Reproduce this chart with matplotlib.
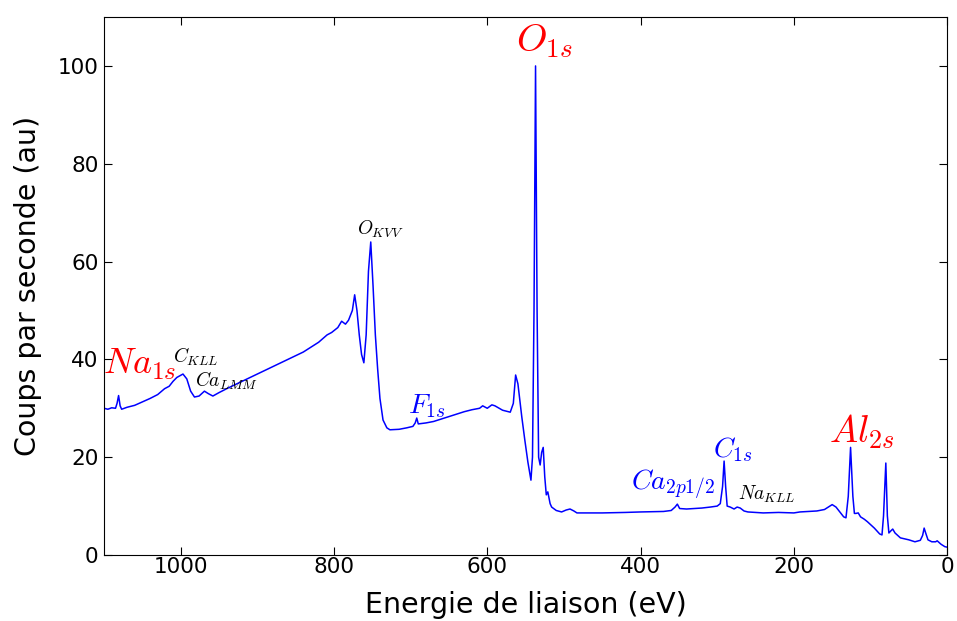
import matplotlib
matplotlib.use("Agg")
import matplotlib.pyplot as plt

plt.rcParams['mathtext.fontset'] = 'cm'

# spectre XPS (energie de liaison en eV, coups/s)
energie = [1100, 1095, 1090, 1085, 1083, 1081, 1079, 1077, 1070, 1060, 1050, 1040,
           1030, 1021, 1015, 1010, 1005, 997, 992, 987, 982, 976, 969, 964, 958,
           950, 940, 920, 900, 880, 860, 840, 820, 809, 803, 795, 790, 785, 781,
           776, 773, 770, 767, 764, 761, 758, 755, 752, 749, 746, 743, 740, 736,
           731, 727, 715, 705, 697, 694, 692, 690, 680, 670, 660, 650, 640, 630,
           620, 610, 606, 600, 594, 590, 580, 570, 566, 563, 560, 557, 555, 551,
           547, 543, 541, 539, 537, 535, 533, 531, 529, 527, 525, 523, 521, 518,
           516, 510, 503, 497, 492, 487, 483, 450, 420, 400, 370, 360, 355, 352,
           349, 340, 320, 309, 300, 296, 293, 291, 289, 287, 283, 278, 274, 270,
           265, 260, 240, 220, 200, 192, 180, 170, 160, 150, 145, 140, 135, 132,
           129, 126, 123, 121, 119, 116, 113, 108, 104, 95, 88, 85, 83, 80, 78,
           76, 73, 71, 68, 61, 50, 42, 35, 32, 30, 28, 25, 20, 15, 13, 8, 3, 0]
coups = [30.0, 29.8, 30.1, 30.0, 31.0, 32.6, 30.5, 29.8, 30.2, 30.6, 31.3, 32.0,
         32.8, 34.0, 34.5, 35.5, 36.3, 37.0, 36.0, 33.5, 32.3, 32.5, 33.5, 33.0, 32.5,
         33.2, 34.0, 35.5, 37.0, 38.5, 40.0, 41.5, 43.5, 45.0, 45.5, 46.5, 47.8, 47.2, 48.0,
         50.0, 53.2, 50.0, 45.0, 41.0, 39.3, 45.0, 58.0, 64.0, 55.0, 45.0, 38.0, 32.0, 27.6,
         26.0, 25.6, 25.7, 26.0, 26.3, 27.0, 28.0, 26.8, 27.0, 27.3, 27.8, 28.3, 28.8, 29.3,
         29.7, 30.0, 30.5, 30.0, 30.7, 30.5, 29.6, 29.2, 31.0, 36.8, 35.0, 31.0, 28.3, 23.5,
         19.0, 15.3, 20.0, 50.0, 100.0, 50.0, 20.0, 18.4, 21.0, 22.0, 16.0, 12.3, 12.9, 10.5,
         9.8, 9.1, 8.8, 9.2, 9.4, 9.0, 8.6, 8.6, 8.7, 8.8, 8.9, 9.1, 9.8, 10.4,
         9.5, 9.4, 9.6, 9.8, 10.0, 10.5, 14.0, 19.2, 14.0, 10.0, 9.8, 9.4, 9.8, 9.6,
         9.0, 8.8, 8.6, 8.7, 8.6, 8.8, 8.9, 9.0, 9.3, 10.3, 9.8, 8.8, 7.8, 7.6,
         12.0, 22.0, 12.0, 8.5, 8.5, 8.6, 7.8, 7.3, 6.8, 5.5, 4.3, 4.1, 8.0, 18.8, 8.0,
         4.5, 5.0, 5.3, 4.5, 3.5, 3.1, 2.7, 3.0, 4.0, 5.5, 4.5, 3.1, 2.7, 2.7, 2.9, 2.2, 1.7, 1.6]

# etiquettes des pics
pics_texte = [r'$Na_{1s}$', r'$C_{KLL}$', r'$Ca_{LMM}$', r'$O_{KVV}$', r'$F_{1s}$',
              r'$O_{1s}$', r'$Ca_{2p1/2}$', r'$C_{1s}$', r'$Na_{KLL}$', r'$Al_{2s}$']
pics_x = [1053, 980, 940, 739, 679, 525, 358, 279, 236, 112]
pics_y = [38.9, 40.5, 35.6, 66.5, 30.5, 105.0, 14.5, 21.5, 12.5, 25.2]
pics_couleur = ['red', 'black', 'black', 'black', 'blue', 'red', 'blue', 'blue', 'black', 'red']
pics_taille = [26, 14, 14, 14, 20, 28, 20, 20, 14, 27]

fig = plt.figure(figsize=(9.57, 6.21), dpi=100)
ax = fig.add_axes([0.1087, 0.1063, 0.881, 0.8663])
ax.plot(energie, coups, color='blue', lw=1.1)

for t, x, y, c, s in zip(pics_texte, pics_x, pics_y, pics_couleur, pics_taille):
    ax.text(x, y, t, color=c, fontsize=s, ha='center', va='center')

ax.set_xlim(1100, 0)
ax.set_ylim(0, 110)
ax.set_xticks([0, 200, 400, 600, 800, 1000])
ax.set_yticks([0, 20, 40, 60, 80, 100])
ax.tick_params(direction='in', top=True, right=True, labelsize=15.5, length=6)
ax.tick_params(axis='x', pad=1.5)
ax.tick_params(axis='y', pad=4)
ax.set_xlabel('Energie de liaison (eV)', fontsize=20.5, labelpad=10)
ax.set_ylabel('Coups par seconde (au)', fontsize=20.5, labelpad=11)

fig.savefig('out.png', dpi=100)
